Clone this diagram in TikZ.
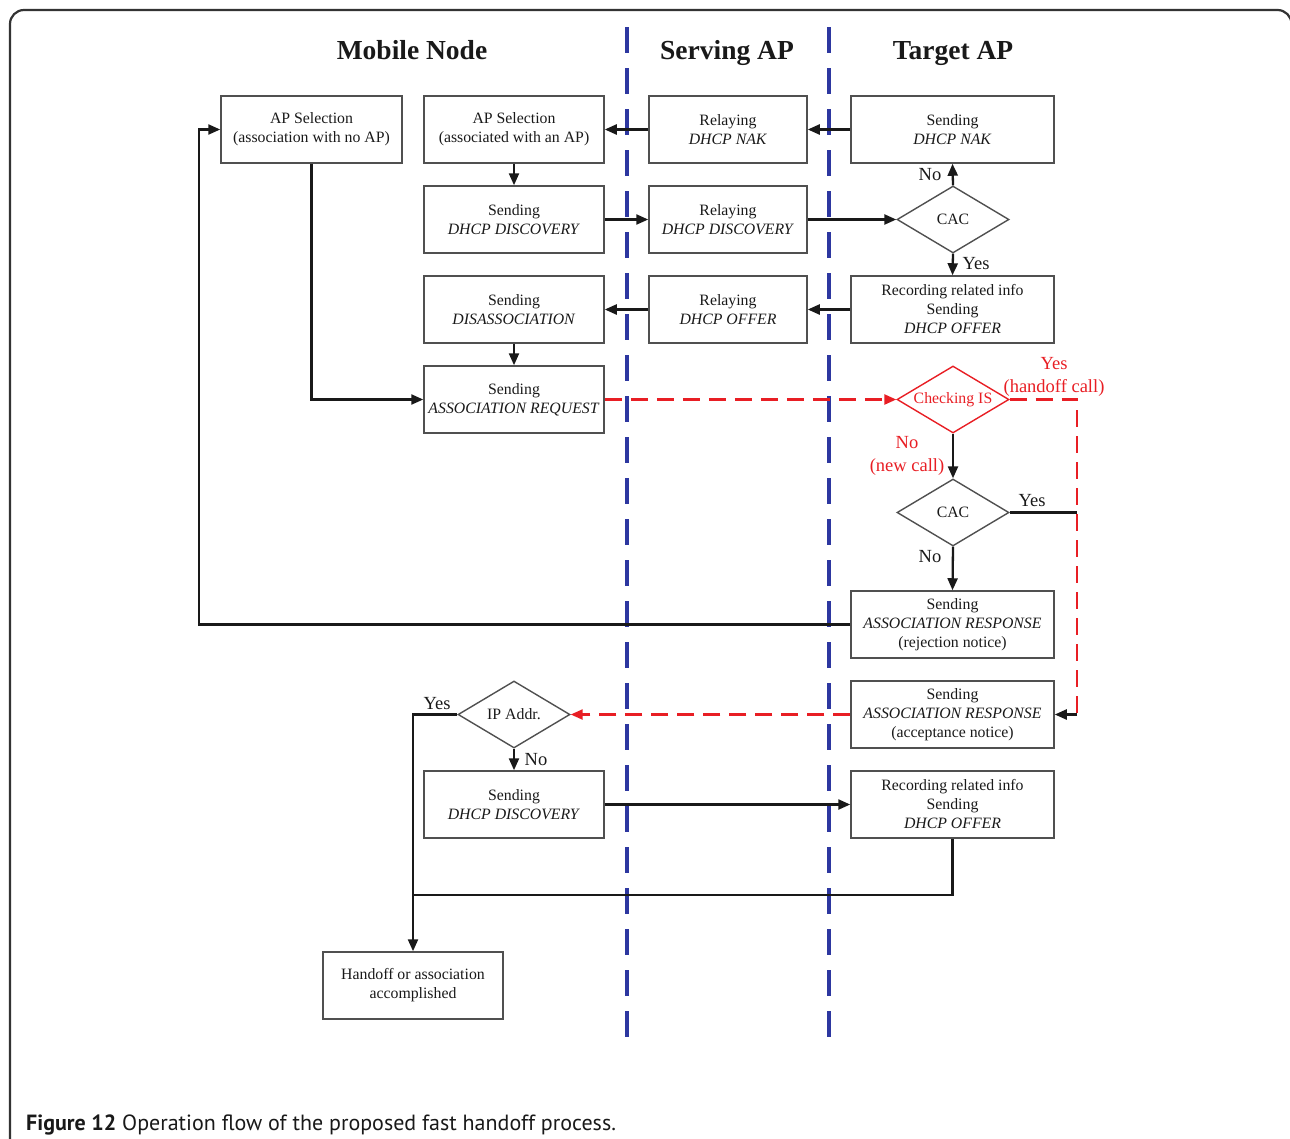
\documentclass[tikz,border=0pt]{standalone}
\usepackage{fontspec}
\setmainfont{Liberation Serif}
\newfontfamily\capfont{PT Sans}
\usetikzlibrary{arrows.meta,shapes.geometric}
\definecolor{lanecol}{RGB}{45,55,160}
\definecolor{hotred}{RGB}{232,30,36}
\definecolor{edgegrey}{RGB}{80,80,80}
\definecolor{inkcol}{RGB}{25,25,25}
\tikzset{
  box/.style={draw=edgegrey, line width=1.5pt, minimum height=67, inner sep=0pt,
    align=center, text=inkcol, font=\fontsize{15.8}{19}\selectfont},
  mnbox/.style={box, minimum width=180},
  sapbox/.style={box, minimum width=158},
  tapbox/.style={box, minimum width=203},
  dia/.style={diamond, draw=edgegrey, line width=1.4pt, aspect=1.67,
    minimum width=112, minimum height=67, inner sep=0pt, text=inkcol,
    font=\fontsize{15.8}{19}\selectfont},
  flow/.style={draw=inkcol, line width=2.3pt},
  flowarr/.style={flow, -{Triangle[length=12pt,width=10pt]}},
  redflow/.style={draw=hotred, line width=2.3pt, dash pattern=on 17pt off 9pt},
  redarr/.style={redflow, -{Triangle[length=12pt,width=10pt]}},
  lane/.style={draw=lanecol, line width=3.3pt, dash pattern=on 26pt off 15pt},
  lbl/.style={text=inkcol, inner sep=0pt, font=\fontsize{18.5}{23}\selectfont},
  redlbl/.style={lbl, text=hotred, align=center},
  head/.style={text=inkcol, inner sep=0pt, anchor=base, font=\bfseries\fontsize{27.5}{30}\selectfont}
}
\begin{document}
\begin{tikzpicture}[x=1pt,y=-1pt]
\useasboundingbox (0,0) rectangle (1290,1138);
\clip (0,0) rectangle (1290,1138);

% outer frame
\draw[line width=2.2pt, draw=black!80, rounded corners=14pt]
  (10,1220) -- (10,10) -- (1291.5,10) -- (1291.5,1220);

% swimlane separators
\draw[lane] (627,27) -- (627,1042);
\draw[lane] (829,27) -- (829,1042);

% lane headings
\node[head] (hmn)  at (412,59) {Mobile Node};
\node[head] (hsap) at (727,59) {Serving AP};
\node[head] (htap) at (953,59) {Target AP};

% Mobile node
\node[box, minimum width=181] (apn) at (311.5,129.5) {AP Selection\\(association with no AP)};
\node[mnbox] (apa)   at (514,129.5) {AP Selection\\(associated with an AP)};
\node[mnbox] (disc1) at (514,219.5) {Sending\\\textit{DHCP DISCOVERY}};
\node[mnbox] (disas) at (514,309.5) {Sending\\\textit{DISASSOCIATION}};
\node[mnbox] (areq)  at (514,399.5) {Sending\\\textit{ASSOCIATION REQUEST}};
\node[dia]   (ipa)   at (514,714.5) {IP Addr.};
\node[mnbox] (disc2) at (514,804.5) {Sending\\\textit{DHCP DISCOVERY}};
\node[mnbox] (done)  at (413,985.5) {Handoff or association\\accomplished};

% Serving AP
\node[sapbox] (rnak)  at (728,129.5) {Relaying\\\textit{DHCP NAK}};
\node[sapbox] (rdisc) at (728,219.5) {Relaying\\\textit{DHCP DISCOVERY}};
\node[sapbox] (roff)  at (728,309.5) {Relaying\\\textit{DHCP OFFER}};

% Target AP
\node[tapbox] (snak)  at (952.5,129.5) {Sending\\\textit{DHCP NAK}};
\node[dia]    (cac1)  at (953,219.5) {CAC};
\node[tapbox] (rec1)  at (952.5,309.5) {Recording related info\\Sending\\\textit{DHCP OFFER}};
\node[dia, draw=hotred, text=hotred] (chk) at (953,399.5) {Checking IS};
\node[dia]    (cac2)  at (953,512.5) {CAC};
\node[tapbox] (rej)   at (952.5,624.5) {Sending\\\textit{ASSOCIATION RESPONSE}\\(rejection notice)};
\node[tapbox] (acc)   at (952.5,714.5) {Sending\\\textit{ASSOCIATION RESPONSE}\\(acceptance notice)};
\node[tapbox] (rec2)  at (952.5,804.5) {Recording related info\\Sending\\\textit{DHCP OFFER}};

% routing points
\coordinate (hcTop) at (1077,399.5);
\coordinate (hcBot) at (1077,714.5);
\coordinate (cacYes) at (1077,512.5);
\coordinate (rejTurn) at (199,624.5);
\coordinate (rejUp) at (199,129.5);
\coordinate (apnDown) at (311.5,399.5);
\coordinate (ipaLeft) at (413,714.5);
\coordinate (recDown) at (952.5,895);
\coordinate (joinPt) at (413,895);

% DHCP exchange
\draw[flowarr] (snak.west) -- (rnak.east);
\draw[flowarr] (rnak.west) -- (apa.east);
\draw[flowarr] (apa.south) -- (disc1.north);
\draw[flowarr] (disc1.east) -- (rdisc.west);
\draw[flowarr] (rdisc.east) -- (cac1.west);
\draw[flowarr] (cac1.north) -- (snak.south);
\draw[flowarr] (cac1.south) -- (rec1.north);
\draw[flowarr] (rec1.west) -- (roff.east);
\draw[flowarr] (roff.west) -- (disas.east);
\draw[flowarr] (disas.south) -- (areq.north);
\draw[flowarr] (apn.south) -- (apnDown) -- (areq.west);

% association
\draw[redarr] (areq.east) -- (chk.west);
\draw[flowarr] (chk.south) -- (cac2.north);
\draw[flowarr] (cac2.south) -- (rej.north);
\draw[flowarr] (rej.west) -- (rejTurn) -- (rejUp) -- (apn.west);
\draw[redflow] (chk.east) -- (hcTop) -- (hcBot);
\draw[flow] (cac2.east) -- (cacYes);
\draw[flowarr] (hcBot) -- (acc.east);
\draw[redarr] (acc.west) -- (ipa.east);
\draw[flowarr] (ipa.west) -- (ipaLeft) -- (done.north);
\draw[flowarr] (ipa.south) -- (disc2.north);
\draw[flowarr] (disc2.east) -- (rec2.west);
\draw[flow] (rec2.south) -- (recDown) -- (joinPt);

% branch labels
\node[lbl] (l1) at (930,175) {No};
\node[lbl] (l2) at (976,264) {Yes};
\node[redlbl] (l3) at (1054,377) {Yes\\(handoff call)};
\node[redlbl] (l4) at (907,456) {No\\(new call)};
\node[lbl] (l5) at (1032,501) {Yes};
\node[lbl] (l6) at (930,557) {No};
\node[lbl] (l7) at (437,704) {Yes};
\node[lbl] (l8) at (536,760) {No};

% caption
\node[anchor=base west, inner sep=0pt, text=inkcol, font=\capfont\fontsize{22}{26}\selectfont]
  (cap) at (26,1130) {\textbf{Figure 12} Operation flow of the proposed fast handoff process.};
\end{tikzpicture}
\end{document}
